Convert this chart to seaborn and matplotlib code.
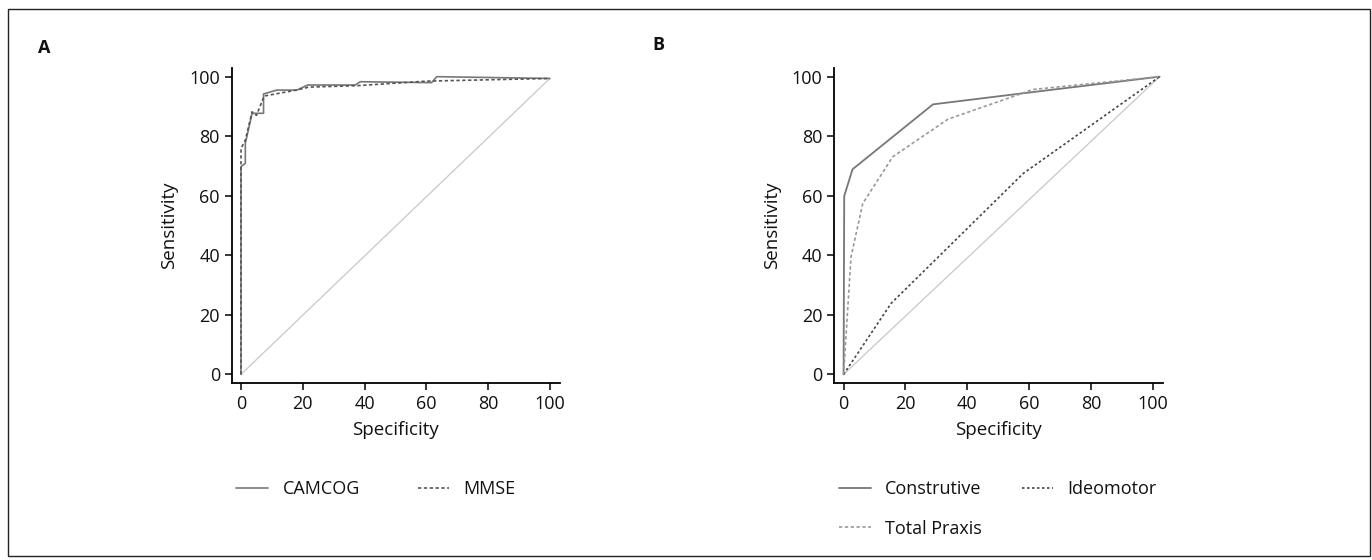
import matplotlib

matplotlib.use("Agg")
import matplotlib.pyplot as plt
import numpy as np
import pandas as pd
import seaborn as sns
from matplotlib.patches import Rectangle

sns.set_theme(style="ticks")
plt.rcParams["font.family"] = ["Open Sans", "DejaVu Sans"]
plt.rcParams["text.color"] = "#111111"
plt.rcParams["axes.labelcolor"] = "#111111"

# Panel A: CAMCOG vs MMSE
camcog_x = [0, 0, 1.4, 1.4, 3.6, 7.3, 7.3, 11.6, 18.1, 21.6, 37.0, 38.6, 61.7, 63.4, 100]
camcog_y = [0, 69.8, 70.9, 77.6, 87.7, 87.7, 94.2, 95.5, 95.5, 97.2, 97.2, 98.3, 98.0, 100, 99.4]
mmse_x = [0, 0, 1.4, 3.6, 5.0, 7.5, 18.0, 22.0, 38.0, 60.0, 100]
mmse_y = [0, 75.9, 78.7, 88.2, 87.0, 93.5, 95.5, 96.5, 97.0, 98.5, 99.4]
ref_a_x = [0, 100]
ref_a_y = [0, 99.4]

# Panel B: praxis scores
constr_x = [0, 0.2, 2.9, 28.9, 60.2, 102.2]
constr_y = [0, 59.9, 68.9, 90.7, 94.7, 100]
ideo_x = [0, 15.4, 58.1, 102.2]
ideo_y = [0, 23.9, 67.5, 100]
total_x = [0, 2.4, 6.2, 15.9, 33.7, 61.3, 102.2]
total_y = [0, 39.5, 57.4, 73.1, 85.7, 95.7, 100]
ref_b_x = [0, 102.2]
ref_b_y = [0, 100]

ticks = [0, 20, 40, 60, 80, 100]

fig = plt.figure(figsize=(13.72, 5.6), dpi=100)
ax_a = fig.add_axes([0.1689, 0.3155, 0.2393, 0.563])
ax_b = fig.add_axes([0.6081, 0.3155, 0.2396, 0.563])


def draw(ax, x, y, color, ls, lw):
    df = pd.DataFrame({"x": x, "y": y})
    sns.lineplot(data=df, x="x", y="y", sort=False, estimator=None, ax=ax,
                 color=color, linestyle=ls, linewidth=lw, legend=False)
    return ax.lines[-1]


draw(ax_a, ref_a_x, ref_a_y, "#c8c8c8", "-", 0.9)
h1 = draw(ax_a, camcog_x, camcog_y, "#777777", "-", 1.2)
h2 = draw(ax_a, mmse_x, mmse_y, "#555555", (0, (2, 1.5)), 1.2)

draw(ax_b, ref_b_x, ref_b_y, "#c8c8c8", "-", 0.9)
h3 = draw(ax_b, constr_x, constr_y, "#777777", "-", 1.3)
h4 = draw(ax_b, ideo_x, ideo_y, "#444444", (0, (1.5, 1.5)), 1.2)
h5 = draw(ax_b, total_x, total_y, "#999999", (0, (2, 1.5)), 1.2)

for ax in (ax_a, ax_b):
    ax.set_xlim(-3.0, 103.3)
    ax.set_ylim(-3.0, 102.9)
    ax.set_xticks(ticks)
    ax.set_yticks(ticks)
    ax.set_xlabel("Specificity", fontsize=13.5, labelpad=6)
    ax.set_ylabel("Sensitivity", fontsize=13.5, labelpad=8)
    ax.tick_params(axis="both", direction="out", length=5, width=1.1,
                   color="black", labelsize=13, labelcolor="#111111")
    for side in ("top", "right"):
        ax.spines[side].set_visible(False)
    for side in ("left", "bottom"):
        ax.spines[side].set_color("black")
        ax.spines[side].set_linewidth(1.3)

ax_a.legend([h1, h2], ["CAMCOG", "MMSE"], loc="upper left",
            bbox_to_anchor=(-0.035, -0.255), ncol=2, frameon=False, fontsize=13,
            handlelength=1.75, columnspacing=3.2, handletextpad=0.8)
ax_b.legend([h3, h5, h4], ["Construtive", "Total Praxis", "Ideomotor"], loc="upper left",
            bbox_to_anchor=(-0.035, -0.255), ncol=2, frameon=False, fontsize=13,
            handlelength=1.75, columnspacing=2.2, handletextpad=0.8, labelspacing=1.2)

fig.text(38 / 1372, 1 - 48 / 560, "A", fontsize=13, fontweight="bold", va="center")
fig.text(652 / 1372, 1 - 45 / 560, "B", fontsize=13, fontweight="bold", va="center")

fig.patches.append(Rectangle((8 / 1372, 4 / 560), 1362 / 1372, 547 / 560,
                             transform=fig.transFigure, fill=False,
                             edgecolor="#222222", linewidth=1.0))

fig.savefig("out.png", dpi=100)
